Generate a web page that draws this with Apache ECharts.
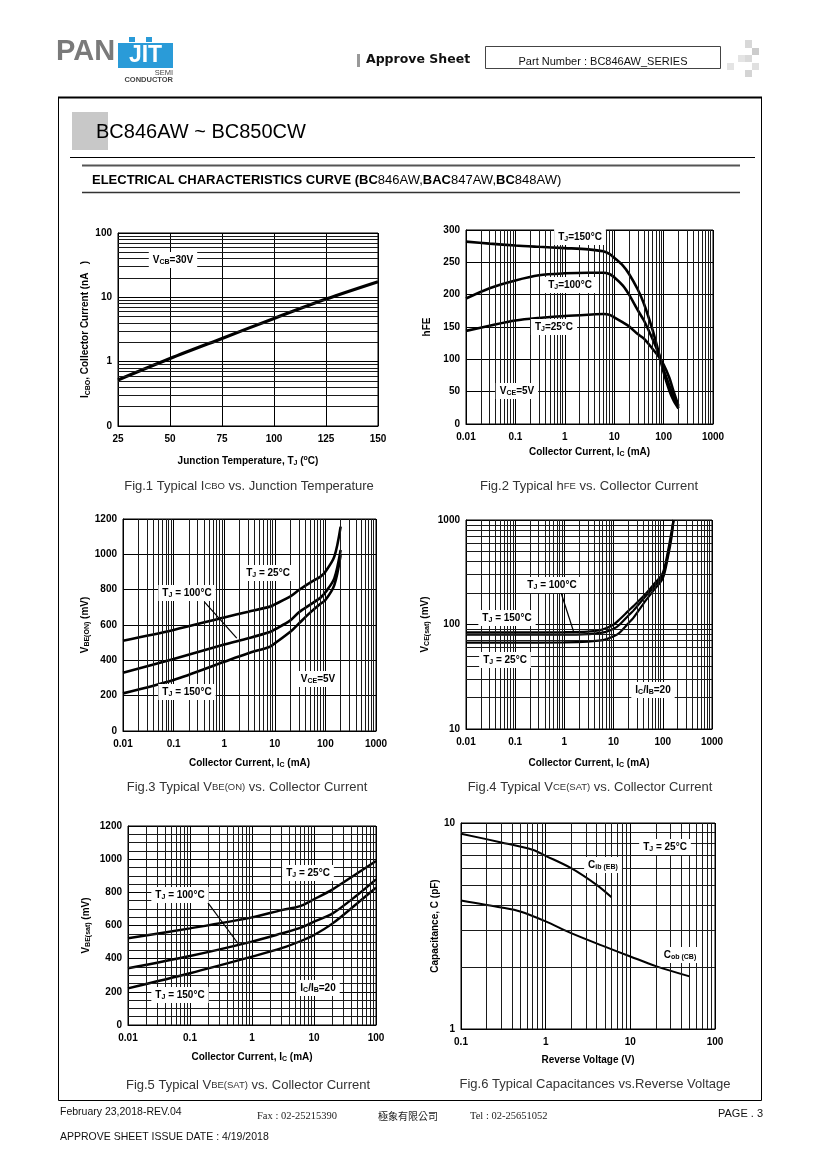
<!DOCTYPE html>
<html><head><meta charset="utf-8">
<script src="https://cdn.jsdelivr.net/npm/echarts@6/dist/echarts.min.js"></script>
<style>html,body{margin:0;padding:0;background:#fff}#c{width:820px;height:1160px}</style>
</head><body><div id="c"></div>
<script>
// ---------- DATA ----------
// Fig.1 ICBO vs TJ
const fig1Temp = [25, 50, 75, 100, 125, 150];
const fig1Icbo = [0.52, 1.12, 2.3, 4.7, 9.4, 17.5];
// Fig.2 hFE vs IC
const fig2Ic = [0.01, 0.03, 0.1, 0.3, 1, 3, 6, 8, 10, 15, 20, 30, 40, 60, 80, 100, 130, 160, 200];
const fig2Hfe150 = [282, 279, 276, 274, 272, 270, 267, 263, 257, 245, 232, 208, 186, 145, 110, 80, 52, 36, 24];
const fig2Hfe100 = [194, 210, 222, 230, 233, 234, 234, 232, 227, 214, 200, 176, 160, 131, 108, 84, 60, 42, 25];
const fig2Hfe25 = [144, 152, 160, 164, 167, 169, 170, 169, 165, 157, 151, 139, 132, 116, 104, 92, 72, 50, 28];
// Fig.3 VBE(ON) vs IC
const fig3Ic = [0.01, 0.1, 1, 3, 8, 10, 20, 30, 50, 80, 100, 150, 200];
const fig3Vbe25 = [511, 572, 643, 675, 704, 717, 760, 798, 840, 874, 902, 987, 1157];
const fig3Vbe100 = [330, 408, 490, 525, 560, 575, 625, 672, 715, 755, 785, 864, 1025];
const fig3Vbe150 = [213, 289, 392, 440, 477, 496, 560, 609, 670, 720, 741, 826, 996];
// Fig.4 VCE(sat) vs IC
const fig4Ic = [0.01, 0.1, 1, 3, 5, 7, 10, 13, 20, 25, 46, 64, 100, 127, 150, 165];
const fig4Vce150 = [84, 84, 84.5, 85.5, 88, 92, 100, 111, 135, 149, 199, 239, 312, 500, 770, 1000];
const fig4Vce100 = [80, 80, 80, 81, 83, 85, 91, 99, 122, 135, 189, 225, 298, 470, 720, 1000];
const fig4Vce25 = [67, 67, 67.5, 68.5, 70, 72, 77, 83, 103, 115, 172, 210, 277, 440, 670, 1000];
// Fig.5 VBE(sat) vs IC
const fig5Ic = [0.01, 0.1, 1, 3, 6, 10, 20, 50, 100];
const fig5Vbe25 = [523, 583, 649, 693, 717, 758, 818, 915, 989];
const fig5Vbe100 = [342, 416, 503, 552, 585, 623, 673, 784, 878];
const fig5Vbe150 = [221, 312, 412, 463, 505, 543, 613, 734, 828];
// Fig.6 Capacitance vs VR
const fig6VrCib = [0.1, 0.3, 0.7, 1, 2, 4, 6];
const fig6Cib = [8.87, 8.05, 7.42, 6.93, 6.04, 5.01, 4.36];
const fig6VrCob = [0.1, 0.3, 0.5, 1, 2, 5, 10, 20, 50];
const fig6Cob = [4.21, 3.89, 3.72, 3.33, 2.92, 2.51, 2.25, 2.02, 1.80];

// ---------- HELPERS ----------
const FF = '"Liberation Sans", Arial, Helvetica, sans-serif';
const pts = (xs, ys) => xs.map((x, i) => [x, ys[i]]);
function logMinors(e0, e1) {
  const out = [];
  for (let e = e0; e < e1; e++) for (let m = 2; m <= 9; m++) out.push(+(m * Math.pow(10, e)).toPrecision(3));
  return out;
}
function steps(a, b, s, skip) {
  const out = [];
  for (let v = a; v <= b; v += s) if (v % skip !== 0) out.push(v);
  return out;
}
const logFmt = v => { const r = Math.round(Math.log10(v)); const p = Math.pow(10, r); return r < 0 ? p.toFixed(-r) : String(p); };
const valFmt = v => String(v);
const AXRICH = {
  sub: {fontSize: 7, fontWeight: 'bold', fontFamily: FF, color: '#000', padding: [5, 0, 0, 0], verticalAlign: 'bottom'},
  sup: {fontSize: 7, fontWeight: 'bold', fontFamily: FF, color: '#000', padding: [0, 0, 5, 0], verticalAlign: 'top'}
};
function axis(gi, type, min, max, name, gap, extra) {
  return Object.assign({
    gridIndex: gi, type, min, max, name, nameLocation: 'middle', nameGap: gap,
    nameTextStyle: {color: '#000', fontFamily: FF, fontSize: 10, fontWeight: 'bold', rich: AXRICH},
    axisLine: {show: true, onZero: false, lineStyle: {color: '#000', width: 1}},
    axisTick: {show: false},
    splitLine: {show: true, lineStyle: {color: '#000', width: 1}},
    axisLabel: {color: '#000', fontFamily: FF, fontSize: 10, fontWeight: 'bold', showMinLabel: true, showMaxLabel: true,
      formatter: type === 'log' ? logFmt : valFmt}
  }, extra || {});
}
function gridLines(gi, xv, yv, leaders) {
  const d = [];
  xv.forEach(v => d.push({xAxis: v}));
  yv.forEach(v => d.push({yAxis: v}));
  (leaders || []).forEach(l => d.push([{coord: l[0], lineStyle: {color: '#000', width: 1.2}}, {coord: l[1]}]));
  return {
    type: 'line', xAxisIndex: gi, yAxisIndex: gi, data: [], z: 1, silent: true,
    markLine: {silent: true, symbol: ['none', 'none'], animation: false, label: {show: false},
      emphasis: {disabled: true}, lineStyle: {type: 'solid', color: '#1a1a1a', width: 1}, data: d}
  };
}
function curve(gi, data, w) {
  return {type: 'line', xAxisIndex: gi, yAxisIndex: gi, data, showSymbol: false, symbol: 'none',
    smooth: 0.3, z: 3, silent: true, lineStyle: {color: '#000', width: w || 2.6}};
}
const GR = {
  sub: {font: 'bold 7px ' + FF, fill: '#000', padding: [5, 0, 0, 0], verticalAlign: 'bottom'},
  s: {font: '9.5px ' + FF, fill: '#333'},
  b: {font: 'bold 13px ' + FF, fill: '#000'},
  n: {font: '13px ' + FF, fill: '#000'}
};
function T(x, y, text, o) {
  return {type: 'text', x, y, z: 100, silent: true,
    style: Object.assign({text, fill: '#000', font: '10px ' + FF, align: 'left', verticalAlign: 'middle', rich: GR}, o || {})};
}
function L(x, y, text) {
  return T(x, y, text, {align: 'center', font: 'bold 10px ' + FF, backgroundColor: '#fff', padding: [2, 4]});
}
function R(x, y, w, h, fill) { return {type: 'rect', z: 100, silent: true, shape: {x, y, width: w, height: h}, style: {fill}}; }
function Ln(x1, y1, x2, y2, stroke, lw) { return {type: 'line', z: 100, silent: true, shape: {x1, y1, x2, y2}, style: {stroke, lineWidth: lw}}; }

const grids = [
  {left: 118, top: 233, width: 260, height: 193},
  {left: 466, top: 230, width: 247, height: 194},
  {left: 123, top: 519, width: 253, height: 212},
  {left: 466, top: 520, width: 246, height: 209},
  {left: 128, top: 826, width: 248, height: 199},
  {left: 461, top: 823, width: 254, height: 206}
].map(g => Object.assign({show: true, borderColor: '#000', borderWidth: 1, backgroundColor: 'transparent'}, g));

const xAxes = [
  axis(0, 'value', 25, 150, 'Junction Temperature, T{sub|J} ({sup|o}C)', 29, {interval: 25}),
  axis(1, 'log', 0.01, 1000, 'Collector Current, I{sub|C} (mA)', 22, {splitNumber: 5}),
  axis(2, 'log', 0.01, 1000, 'Collector Current, I{sub|C} (mA)', 26, {splitNumber: 5}),
  axis(3, 'log', 0.01, 1000, 'Collector Current, I{sub|C} (mA)', 28, {splitNumber: 5}),
  axis(4, 'log', 0.01, 100, 'Collector Current, I{sub|C} (mA)', 26, {splitNumber: 4}),
  axis(5, 'log', 0.1, 100, 'Reverse Voltage (V)', 26, {splitNumber: 3})
];
const yAxes = [
  axis(0, 'log', 0.1, 100, 'I{sub|CBO}, Collector Current (nA   )', 22, {splitNumber: 3}),
  axis(1, 'value', 0, 300, 'hFE', 34, {interval: 50}),
  axis(2, 'value', 0, 1200, 'V{sub|BE(ON)} (mV)', 32, {interval: 200}),
  axis(3, 'log', 10, 1000, 'V{sub|CE(sat)} (mV)', 35, {splitNumber: 2}),
  axis(4, 'value', 0, 1200, 'V{sub|BE(sat)} (mV)', 36, {interval: 200}),
  axis(5, 'log', 1, 10, 'Capacitance, C (pF)', 18, {splitNumber: 1})
];
yAxes[0].axisLabel.formatter = v => (v < 0.5 ? '0' : logFmt(v));
yAxes.forEach(a => { a.nameRotate = 90; a.axisLabel.margin = 6; });

const series = [
  gridLines(0, [], logMinors(-1, 2)),
  gridLines(1, logMinors(-2, 3), []),
  gridLines(2, logMinors(-2, 3), [], [[[0.41, 730], [1.77, 526]]]),
  gridLines(3, logMinors(-2, 3), logMinors(1, 3), [[[0.82, 214], [1.57, 83]]]),
  gridLines(4, logMinors(-2, 2), steps(50, 1150, 50, 200), [[[0.195, 736], [0.6, 490]]]),
  gridLines(5, logMinors(-1, 2), logMinors(0, 1)),
  curve(0, pts(fig1Temp, fig1Icbo), 3.2),
  curve(1, pts(fig2Ic, fig2Hfe150)),
  curve(1, pts(fig2Ic, fig2Hfe100)),
  curve(1, pts(fig2Ic, fig2Hfe25)),
  curve(2, pts(fig3Ic, fig3Vbe25)),
  curve(2, pts(fig3Ic, fig3Vbe100)),
  curve(2, pts(fig3Ic, fig3Vbe150)),
  curve(3, pts(fig4Ic, fig4Vce150), 2.2),
  curve(3, pts(fig4Ic, fig4Vce100), 2.2),
  curve(3, pts(fig4Ic, fig4Vce25), 2.2),
  curve(4, pts(fig5Ic, fig5Vbe25), 2.4),
  curve(4, pts(fig5Ic, fig5Vbe100), 2.4),
  curve(4, pts(fig5Ic, fig5Vbe150), 2.4),
  curve(5, pts(fig6VrCib, fig6Cib), 2),
  curve(5, pts(fig6VrCob, fig6Cob), 2)
];

const CAP = {align: 'center', font: '13px ' + FF, fill: '#333'};
const graphics = [
  // header
  T(56, 52, 'PAN', {font: 'bold 29px ' + FF, fill: '#7a7a7a'}),
  R(118, 43, 55, 25, '#2a9bd8'),
  R(129, 37, 6, 5, '#2a9bd8'), R(146, 37, 6, 5, '#2a9bd8'),
  T(145.5, 56, 'JIT', {align: 'center', font: 'bold 23px ' + FF, fill: '#fff'}),
  T(173, 73, 'SEMI', {align: 'right', font: '7.5px ' + FF, fill: '#444'}),
  T(173, 80, 'CONDUCTOR', {align: 'right', font: 'bold 7.5px ' + FF, fill: '#444'}),
  R(357, 54, 3, 13, '#999'),
  T(366, 60, 'Approve Sheet', {font: 'bold 12.5px "DejaVu Sans", sans-serif', fill: '#111'}),
  {type: 'rect', z: 100, silent: true, shape: {x: 485.5, y: 46.5, width: 235, height: 22}, style: {fill: 'none', stroke: '#444', lineWidth: 1}},
  T(603, 62, 'Part Number : BC846AW_SERIES', {align: 'center', font: '11px ' + FF, fill: '#111'}),
  R(745, 40, 7, 8, '#d8d8d8'), R(752, 48, 7, 7, '#cccccc'), R(738, 55, 7, 7, '#e4e4e4'),
  R(745, 55, 7, 7, '#dadada'), R(727, 63, 7, 7, '#e4e4e4'), R(752, 63, 7, 7, '#e0e0e0'), R(745, 70, 7, 7, '#d4d4d4'),
  // frame
  {type: 'rect', z: 100, silent: true, shape: {x: 58.5, y: 97.5, width: 703, height: 1003}, style: {fill: 'none', stroke: '#000', lineWidth: 1}},
  Ln(58, 97.5, 762, 97.5, '#000', 2),
  R(72, 112, 36, 38, '#c8c8c8'),
  T(96, 132, 'BC846AW ~ BC850CW', {font: '20px ' + FF, fill: '#000'}),
  Ln(70, 157.5, 755, 157.5, '#000', 1.2),
  Ln(82, 165.5, 740, 165.5, '#555', 2),
  T(92, 180, '{b|ELECTRICAL CHARACTERISTICS CURVE (BC}{n|846AW,}{b|BAC}{n|847AW,}{b|BC}{n|848AW)}', {font: 'bold 13px ' + FF}),
  Ln(82, 192.5, 740, 192.5, '#333', 1.5),
  // fig annotations
  L(173, 260, 'V{sub|CB}=30V'),
  L(580, 237, 'T{sub|J}=150°C'),
  L(570, 285, 'T{sub|J}=100°C'),
  L(554, 327, 'T{sub|J}=25°C'),
  L(517, 391, 'V{sub|CE}=5V'),
  L(268, 573, 'T{sub|J} = 25°C'),
  L(187, 593, 'T{sub|J} = 100°C'),
  L(187, 692, 'T{sub|J} = 150°C'),
  L(318, 679, 'V{sub|CE}=5V'),
  L(552, 585, 'T{sub|J} = 100°C'),
  L(507, 618, 'T{sub|J} = 150°C'),
  L(505, 660, 'T{sub|J} = 25°C'),
  L(653, 690, 'I{sub|C}/I{sub|B}=20'),
  L(308, 873, 'T{sub|J} = 25°C'),
  L(180, 895, 'T{sub|J} = 100°C'),
  L(180, 995, 'T{sub|J} = 150°C'),
  L(318, 988, 'I{sub|C}/I{sub|B}=20'),
  L(665, 847, 'T{sub|J} = 25°C'),
  L(603, 865, 'C{sub|ib (EB)}'),
  L(680, 955, 'C{sub|ob (CB)}'),
  // captions
  T(249, 486, 'Fig.1 Typical I{s|CBO} vs. Junction Temperature', CAP),
  T(589, 486, 'Fig.2 Typical h{s|FE} vs. Collector Current', CAP),
  T(247, 787, 'Fig.3 Typical V{s|BE(ON)} vs. Collector Current', CAP),
  T(590, 787, 'Fig.4 Typical V{s|CE(SAT)} vs. Collector Current', CAP),
  T(248, 1085, 'Fig.5 Typical V{s|BE(SAT)} vs. Collector Current', CAP),
  T(595, 1084, 'Fig.6 Typical Capacitances vs.Reverse Voltage', CAP),
  // footer
  T(60, 1112, 'February 23,2018-REV.04', {font: '10.5px ' + FF, fill: '#111'}),
  T(257, 1116, 'Fax : 02-25215390', {font: '10.5px "Liberation Serif", serif', fill: '#222'}),
  T(378, 1116, '極象有限公司', {font: '10px "Noto Sans CJK TC", sans-serif', fill: '#222'}),
  T(470, 1116, 'Tel : 02-25651052', {font: '10.5px "Liberation Serif", serif', fill: '#222'}),
  T(763, 1114, 'PAGE . 3', {align: 'right', font: '11px ' + FF, fill: '#111'}),
  T(60, 1137, 'APPROVE SHEET ISSUE DATE : 4/19/2018', {font: '10.5px ' + FF, fill: '#111'})
];

const chart = echarts.init(document.getElementById('c'), null, {renderer: 'canvas'});
chart.setOption({
  animation: false,
  backgroundColor: '#fff',
  grid: grids,
  xAxis: xAxes,
  yAxis: yAxes,
  series,
  graphic: graphics
});
</script></body></html>
